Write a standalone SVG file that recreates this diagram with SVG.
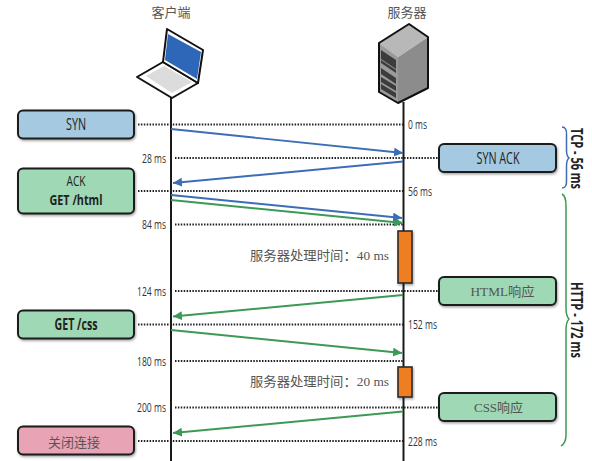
<svg xmlns="http://www.w3.org/2000/svg" width="592" height="461" viewBox="0 0 592 461">
<style>
.life{stroke:#1a1a1a;stroke-width:2;fill:none}
.dot{stroke:#222;stroke-width:2;stroke-dasharray:1.5 1.4;fill:none}
.blue{stroke:#3d6db5;stroke-width:1.9;fill:none}
.green{stroke:#3b9a54;stroke-width:1.9;fill:none}
.box{stroke:#1c1c1c;stroke-width:2;filter:url(#sh)}
.bb{fill:#a5c9e1}.bg{fill:#9fd8b4}.bp{fill:#e8a3b5}
.or{fill:#ef7d22;stroke:#2a2a2a;stroke-width:1.6;filter:url(#sh)}
.c{font-family:"Noto Sans CJK SC",sans-serif;font-size:13px;fill:#555}
.sans{font-family:"Open Sans","Noto Sans",sans-serif;fill:#222;text-anchor:middle}
.ms{font-family:"Open Sans","Noto Sans",sans-serif;font-size:13px;fill:#333}
.ser{font-family:"Liberation Serif","Noto Sans CJK SC",serif;font-size:13px;fill:#555}
.m{text-anchor:middle}
.e{text-anchor:end}
</style>
<defs>
<filter id="sh" x="-10%" y="-10%" width="125%" height="135%"><feDropShadow dx="1" dy="1.5" stdDeviation="1" flood-color="#000" flood-opacity=".35"/></filter>
<marker id="ab" markerUnits="userSpaceOnUse" markerWidth="10" markerHeight="10" refX="9" refY="4.500" orient="auto"><path d="M0 0L9 4.500L0 9z" fill="#3d6db5"/></marker>
<marker id="ag" markerUnits="userSpaceOnUse" markerWidth="10" markerHeight="10" refX="9" refY="4.500" orient="auto"><path d="M0 0L9 4.500L0 9z" fill="#3b9a54"/></marker>
</defs>
<g id="connectors">
<path class="life" d="M171 97V461M403.500 102V231M403.500 282V367M403.500 397V461"/>
<path class="dot" d="M138 124.500H403M175 158H439M138 191H403M175 224.500H403M175 291H439M138 324.500H403M175 361H403M175 407.500H439M138 441H403"/>
<path class="blue" marker-end="url(#ab)" d="M171 129L403 153"/>
<path class="blue" marker-end="url(#ab)" d="M403 161.500L173 183"/>
<path class="green" marker-end="url(#ag)" d="M171 200L403 223"/>
<path class="blue" marker-end="url(#ab)" d="M171 195L402 218"/>
<path class="green" marker-end="url(#ag)" d="M403 295L173 316.500"/>
<path class="green" marker-end="url(#ag)" d="M171 330L402 353"/>
<path class="green" marker-end="url(#ag)" d="M403 411.500L173 433"/>
</g>
<g id="client">
<text class="c m" x="171" y="17">客户端</text>
<path d="M137 77L163 62L198 83L172 98Z" fill="#fff" stroke="#111" stroke-width="2" stroke-linejoin="round"/>
<path d="M146 76L164 66L192 82L172 93Z" fill="#dcdcdc"/>
<path d="M167 29L203 50L198 83L163 62Z" fill="#fff" stroke="#111" stroke-width="2" stroke-linejoin="round"/>
<path d="M168 34L201 52L197 79L165 60Z" fill="#2f67b8"/>
</g>
<g id="server">
<text class="c m" x="407" y="17">服务器</text>
<path d="M398 57L428 37V88L398 103Z" fill="#8c8c8c"/>
<path d="M379 43L409 24L428 37L398 57Z" fill="#b8b8b8"/>
<path d="M379 43L398 57V103L379 92Z" fill="#9a9a9a"/>
<path d="M381 50L396 60V69L381 59ZM381 60L396 70V73L381 63ZM381 68L396 78V84L381 74ZM381 77L396 86V91L381 82ZM381 84L396 93V98L381 89Z" fill="#3c3c3c"/>
<path d="M379 43L409 24L428 37V88L398 103L379 92Z" fill="none" stroke="#111" stroke-width="2" stroke-linejoin="round"/>
</g>
<g id="syn"><rect class="box bb" x="18" y="110.500" width="116" height="28" rx="5"/><text class="sans" x="76" y="130" font-size="16" textLength="20" lengthAdjust="spacingAndGlyphs">SYN</text></g>
<g id="ack"><rect class="box bg" x="18" y="168.500" width="116" height="45" rx="5"/><text class="sans" x="76" y="186" font-size="14" textLength="19" lengthAdjust="spacingAndGlyphs">ACK</text><text class="sans" x="76" y="205" font-size="14" font-weight="700" textLength="53" lengthAdjust="spacingAndGlyphs">GET /html</text></g>
<g id="getcss"><rect class="box bg" x="18" y="310.500" width="116" height="28" rx="5"/><text class="sans" x="76" y="330" font-size="16" font-weight="700" textLength="43" lengthAdjust="spacingAndGlyphs">GET /css</text></g>
<g id="close"><rect class="box bp" x="18" y="426.500" width="116" height="28" rx="5"/><text class="c m" x="74" y="446.500">关闭连接</text></g>
<g id="synack"><rect class="box bb" x="439" y="144" width="117" height="28" rx="5"/><text class="sans" x="498" y="163.500" font-size="16" textLength="43" lengthAdjust="spacingAndGlyphs">SYN ACK</text></g>
<g id="html"><rect class="box bg" x="439" y="277" width="117" height="28" rx="5"/><text class="ser m" x="502.500" y="296" textLength="64" lengthAdjust="spacingAndGlyphs" fill="#3f5a4c">HTML响应</text></g>
<g id="css"><rect class="box bg" x="439" y="393" width="117" height="28" rx="5"/><text class="ser m" x="498.500" y="412" textLength="49" lengthAdjust="spacingAndGlyphs">CSS响应</text></g>
<g id="proc1"><rect class="or" x="398" y="231" width="14" height="52"/><text class="ser e" x="389" y="260" textLength="139" lengthAdjust="spacingAndGlyphs">服务器处理时间：40 ms</text></g>
<g id="proc2"><rect class="or" x="398" y="367" width="14" height="30"/><text class="ser e" x="389" y="386" textLength="139" lengthAdjust="spacingAndGlyphs">服务器处理时间：20 ms</text></g>
<g id="times">
<text class="ms e" x="166" y="162.500" textLength="24" lengthAdjust="spacingAndGlyphs">28 ms</text><text class="ms e" x="166" y="229" textLength="24" lengthAdjust="spacingAndGlyphs">84 ms</text><text class="ms e" x="166" y="295.500" textLength="29" lengthAdjust="spacingAndGlyphs">124 ms</text><text class="ms e" x="166" y="365.500" textLength="29" lengthAdjust="spacingAndGlyphs">180 ms</text><text class="ms e" x="166" y="412" textLength="29" lengthAdjust="spacingAndGlyphs">200 ms</text>
<text class="ms" x="408" y="129" textLength="19" lengthAdjust="spacingAndGlyphs">0 ms</text><text class="ms" x="408" y="195.500" textLength="24" lengthAdjust="spacingAndGlyphs">56 ms</text><text class="ms" x="408" y="329" textLength="29" lengthAdjust="spacingAndGlyphs">152 ms</text><text class="ms" x="408" y="445.500" textLength="29" lengthAdjust="spacingAndGlyphs">228 ms</text>
</g>
<g id="brace-tcp"><path d="M562 127Q567 127 566.500 135V150Q566.500 156 569 158Q566.500 160 566.500 166V180Q567 188 562 188" fill="none" stroke="#3d6db5" stroke-width="1.5"/><text class="sans" transform="translate(571 158.500) rotate(90)" font-size="16" font-weight="700" textLength="61" lengthAdjust="spacingAndGlyphs">TCP - 56 ms</text></g>
<g id="brace-http"><path d="M562 194Q566 196 566 206V308Q566 316 569 319Q566 322 566 330V435Q566 443 561 446" fill="none" stroke="#3b9a54" stroke-width="1.5"/><text class="sans" transform="translate(571 320) rotate(90)" font-size="16" font-weight="700" textLength="76" lengthAdjust="spacingAndGlyphs">HTTP - 172 ms</text></g>
</svg>
